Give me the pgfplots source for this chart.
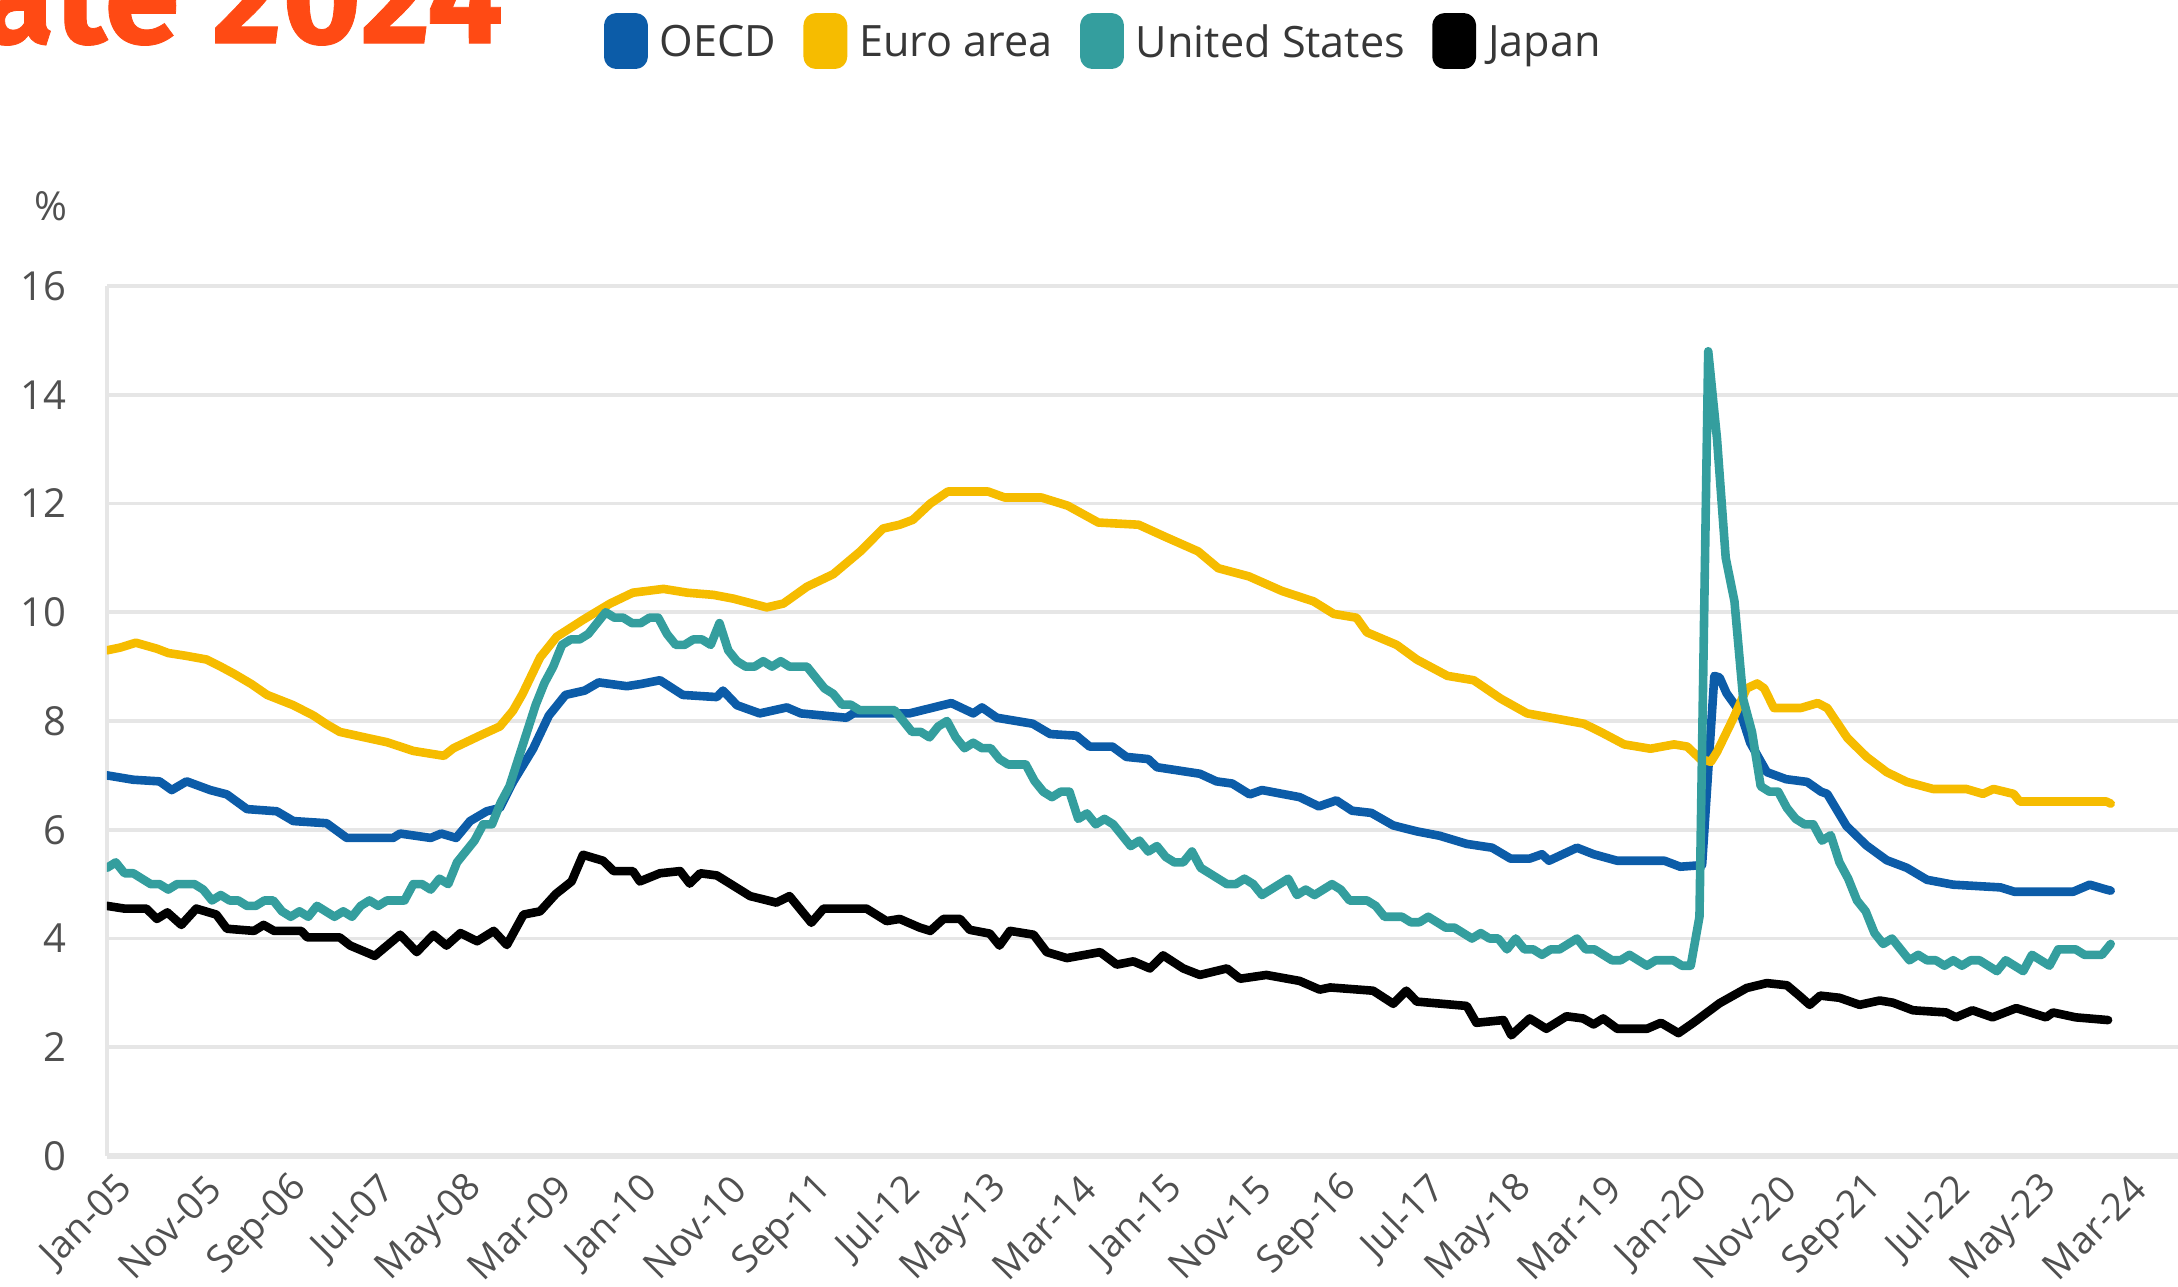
\documentclass[border=0pt]{standalone}
\usepackage{fontspec}
\setmainfont{Open Sans}
\newfontfamily\titlefont{Fira Sans}[FakeBold=0.6]
\usepackage{pgfplots}
\pgfplotsset{compat=1.18}
\definecolor{oecd}{RGB}{12,92,168}
\definecolor{euro}{RGB}{246,188,0}
\definecolor{usa}{RGB}{52,158,158}
\definecolor{jpn}{RGB}{0,0,0}
\definecolor{gridc}{RGB}{230,230,230}
\definecolor{txtc}{RGB}{80,80,80}
\definecolor{legtxt}{RGB}{55,55,55}
\definecolor{titlec}{RGB}{255,74,20}
\begin{document}
\begin{tikzpicture}
\begin{axis}[
  at={(26.75pt,-289pt)}, anchor=south west,
  scale only axis, width=517.75pt, height=217.5pt,
  xmin=0, xmax=236.69, ymin=0, ymax=16,
  axis x line*=bottom, axis y line*=left,
  x axis line style={draw=gridc, line width=1.3pt, -},
  y axis line style={draw=gridc, line width=1.1pt, -},
  ytick={0,2,...,16}, ymajorgrids,
  major grid style={draw=gridc, line width=0.9pt},
  xtick={0,10,...,230},
  xticklabels={Jan-05,Nov-05,Sep-06,Jul-07,May-08,Mar-09,Jan-10,Nov-10,Sep-11,Jul-12,May-13,Mar-14,Jan-15,Nov-15,Sep-16,Jul-17,May-18,Mar-19,Jan-20,Nov-20,Sep-21,Jul-22,May-23,Mar-24},
  major tick length=0pt,
  tick label style={font=\fontsize{10}{12}\selectfont, text=txtc},
  xticklabel style={font=\fontsize{9.5}{12}\selectfont},
  /pgf/number format/assume math mode=true,
  yticklabel style={anchor=east, inner sep=0pt, xshift=-10pt},
  xticklabel style={inner sep=0pt, anchor=east, xshift=5pt, yshift=-6.6pt, rotate=45},
  legend columns=4,
  legend cell align=left,
  legend style={at={(rel axis cs:0.240,1.2816)}, anchor=west, draw=none, fill=none,
    inner sep=0pt, outer sep=0pt, font=\fontsize{10.8}{12}\selectfont, text=legtxt,
    nodes={inner sep=0pt, text depth=0pt},
    /tikz/every odd column/.append style={column sep=3pt},
    /tikz/every even column/.append style={column sep=6.8pt}},
  legend image code/.code={\fill[#1, rounded corners=2pt] (0pt,-5.9pt) rectangle (8.8pt,5.9pt);},
  every axis plot/.append style={line width=2.15pt, line join=round, line cap=round, mark=none},
]
\addplot[oecd] table {
0 7.0
3 6.92
6 6.89
7.4 6.73
9.1 6.89
11.8 6.73
13.7 6.65
16 6.38
19.4 6.34
21.3 6.16
25.1 6.12
27.4 5.85
32.7 5.85
33.5 5.93
37 5.85
38.2 5.93
39.9 5.85
41.5 6.16
43.4 6.34
44.9 6.4
46.4 6.88
48.7 7.49
50.5 8.1
52.4 8.48
54.6 8.56
56.2 8.71
59.4 8.64
61 8.68
63.2 8.75
65.8 8.48
69.7 8.44
70.4 8.56
72 8.29
74.6 8.14
77.7 8.25
79.3 8.14
84.5 8.06
85.3 8.14
91.7 8.14
96.5 8.33
99 8.14
100 8.25
101.7 8.06
105.8 7.95
107.8 7.76
110.8 7.73
112.3 7.53
114.9 7.53
116.5 7.34
119 7.3
120 7.15
124.9 7.03
126.8 6.89
128.6 6.85
130.6 6.65
132 6.73
136.3 6.6
138.5 6.43
140.5 6.54
142.3 6.35
144.5 6.31
147 6.08
149.7 5.97
152.3 5.89
155.4 5.74
158.3 5.67
160.4 5.47
162.6 5.47
164 5.55
164.8 5.43
168 5.67
169.9 5.55
172.6 5.43
178 5.43
179.8 5.32
182.3 5.35
183.7 8.83
184.3 8.8
185.1 8.51
186.7 8.15
187.8 7.6
189.7 7.06
191.9 6.93
194.3 6.88
195.9 6.7
196.6 6.66
198.8 6.07
201.1 5.71
203.4 5.44
205.7 5.3
208 5.08
211 4.99
216.4 4.94
218 4.86
224.7 4.86
226.6 4.99
228.5 4.9
229 4.88
};
\addlegendentry{OECD}
\addplot[euro] table {
0 9.3
1.5 9.35
3.3 9.44
5.7 9.33
7 9.25
9 9.2
11.4 9.13
13 9.0
14.5 8.87
16.5 8.68
18.3 8.48
21.3 8.29
23.6 8.1
25 7.95
26.6 7.8
29.7 7.69
32 7.61
35 7.45
38.5 7.36
39.6 7.5
42.6 7.73
44.9 7.9
46.4 8.19
47.5 8.5
49.5 9.17
51.4 9.55
54.4 9.86
57.5 10.16
60.1 10.36
63.6 10.43
66.3 10.36
69.3 10.32
71.6 10.25
75.4 10.09
77.3 10.16
80 10.47
83 10.7
86.1 11.12
88.7 11.54
90.6 11.61
92.1 11.7
94.1 12.0
96.1 12.22
100.7 12.22
102.6 12.11
106.8 12.11
109.8 11.96
113.3 11.65
117.9 11.61
120.9 11.39
124.7 11.12
127 10.81
130.5 10.66
134.3 10.39
137.9 10.2
140.2 9.97
142.8 9.9
144 9.63
147.4 9.4
149.7 9.13
153.2 8.83
156.2 8.75
159.3 8.41
162.3 8.14
166.1 8.03
168.8 7.95
170.7 7.8
173.4 7.57
176.4 7.49
179.1 7.57
180.6 7.53
182.1 7.3
183.3 7.25
184 7.43
185.9 8.06
187.4 8.6
188.6 8.69
189.4 8.6
190.5 8.24
193.6 8.24
195.5 8.33
196.6 8.24
198.9 7.69
201.1 7.34
203.4 7.06
205.7 6.88
208.7 6.75
212.5 6.75
214.4 6.66
215.6 6.75
217.9 6.66
218.6 6.52
228.5 6.52
229 6.48
};
\addlegendentry{Euro area}
\addplot[usa] table {
0 5.3
1 5.4
2 5.2
3 5.2
4 5.1
5 5.0
6 5.0
7 4.9
8 5.0
9 5.0
10 5.0
11 4.9
12 4.7
13 4.8
14 4.7
15 4.7
16 4.6
17 4.6
18 4.7
19 4.7
20 4.5
21 4.4
22 4.5
23 4.4
24 4.6
25 4.5
26 4.4
27 4.5
28 4.4
29 4.6
30 4.7
31 4.6
32 4.7
33 4.7
34 4.7
35 5.0
36 5.0
37 4.9
38 5.1
39 5.0
40 5.4
41 5.6
42 5.8
43 6.1
44 6.1
45 6.5
46 6.8
47 7.3
48 7.8
49 8.3
50 8.7
51 9.0
52 9.4
53 9.5
54 9.5
55 9.6
56 9.8
57 10.0
58 9.9
59 9.9
60 9.8
61 9.8
62 9.9
63 9.9
64 9.6
65 9.4
66 9.4
67 9.5
68 9.5
69 9.4
70 9.8
71 9.3
72 9.1
73 9.0
74 9.0
75 9.1
76 9.0
77 9.1
78 9.0
79 9.0
80 9.0
81 8.8
82 8.6
83 8.5
84 8.3
85 8.3
86 8.2
87 8.2
88 8.2
89 8.2
90 8.2
91 8.0
92 7.8
93 7.8
94 7.7
95 7.9
96 8.0
97 7.7
98 7.5
99 7.6
100 7.5
101 7.5
102 7.3
103 7.2
104 7.2
105 7.2
106 6.9
107 6.7
108 6.6
109 6.7
110 6.7
111 6.2
112 6.3
113 6.1
114 6.2
115 6.1
116 5.9
117 5.7
118 5.8
119 5.6
120 5.7
121 5.5
122 5.4
123 5.4
124 5.6
125 5.3
126 5.2
127 5.1
128 5.0
129 5.0
130 5.1
131 5.0
132 4.8
133 4.9
134 5.0
135 5.1
136 4.8
137 4.9
138 4.8
139 4.9
140 5.0
141 4.9
142 4.7
143 4.7
144 4.7
145 4.6
146 4.4
147 4.4
148 4.4
149 4.3
150 4.3
151 4.4
152 4.3
153 4.2
154 4.2
155 4.1
156 4.0
157 4.1
158 4.0
159 4.0
160 3.8
161 4.0
162 3.8
163 3.8
164 3.7
165 3.8
166 3.8
167 3.9
168 4.0
169 3.8
170 3.8
171 3.7
172 3.6
173 3.6
174 3.7
175 3.6
176 3.5
177 3.6
178 3.6
179 3.6
180 3.5
181 3.5
182 4.4
183 14.8
184 13.2
185 11.0
186 10.2
187 8.4
188 7.8
189 6.8
190 6.7
191 6.7
192 6.4
193 6.2
194 6.1
195 6.1
196 5.8
197 5.9
198 5.4
199 5.1
200 4.7
201 4.5
202 4.1
203 3.9
204 4.0
205 3.8
206 3.6
207 3.7
208 3.6
209 3.6
210 3.5
211 3.6
212 3.5
213 3.6
214 3.6
215 3.5
216 3.4
217 3.6
218 3.5
219 3.4
220 3.7
221 3.6
222 3.5
223 3.8
224 3.8
225 3.8
226 3.7
227 3.7
228 3.7
229 3.9
};
\addlegendentry{United States}
\addplot[jpn] table {
0 4.6
2 4.55
4.5 4.55
5.7 4.36
6.9 4.48
8.5 4.25
10.2 4.55
12.5 4.44
13.7 4.18
16.8 4.14
17.9 4.25
19.1 4.14
22.2 4.14
22.9 4.02
26.6 4.02
27.8 3.87
30.6 3.68
33.5 4.07
35.4 3.75
37.3 4.07
38.8 3.87
40.4 4.1
42.3 3.95
44.2 4.14
45.7 3.88
47.6 4.44
49.5 4.5
51.3 4.82
53.1 5.05
54.4 5.54
56.7 5.43
57.9 5.24
60.1 5.24
60.9 5.05
63.2 5.2
65.5 5.24
66.6 5.01
67.8 5.2
69.7 5.16
73.5 4.78
76.5 4.66
78 4.78
80.5 4.29
81.9 4.55
86.8 4.55
89.1 4.32
90.6 4.36
92.9 4.2
94.1 4.14
95.6 4.36
97.5 4.36
98.6 4.16
100.9 4.09
102 3.87
103.2 4.14
105.9 4.07
107.4 3.75
109.7 3.64
113.5 3.75
115.4 3.52
117.3 3.58
119.2 3.45
120.7 3.69
123 3.45
124.9 3.33
128 3.45
129.5 3.26
132.5 3.33
136.3 3.22
138.6 3.06
139.8 3.1
144.7 3.04
147 2.8
148.5 3.04
149.7 2.84
155.4 2.76
156.5 2.45
159.6 2.5
160.5 2.22
162.6 2.53
164.5 2.34
166.8 2.57
168.7 2.53
169.9 2.42
171 2.53
172.6 2.34
176 2.34
177.6 2.45
179.6 2.26
181.3 2.45
184.3 2.81
187.4 3.09
189.7 3.18
192 3.14
193.4 2.95
194.6 2.78
195.8 2.95
198 2.91
200.3 2.78
202.6 2.86
204.1 2.82
206.4 2.68
210.2 2.64
211.3 2.55
213.2 2.68
215.5 2.55
218.2 2.72
221.6 2.55
222.4 2.64
225 2.55
228.7 2.5
};
\addlegendentry{Japan}
\end{axis}
\node[anchor=east, inner sep=0pt, text=txtc, font=\fontsize{10}{12}\selectfont] at (17pt,-51.5pt) {\%};
\node[anchor=base east, inner sep=0pt, text=titlec, font=\titlefont\bfseries\fontsize{34}{40}\selectfont] at (126pt,-10.8pt) {ate 2024};
\pgfresetboundingbox
\path[use as bounding box] (0pt,0pt) rectangle (544.5pt,-321.75pt);
\end{tikzpicture}
\end{document}
